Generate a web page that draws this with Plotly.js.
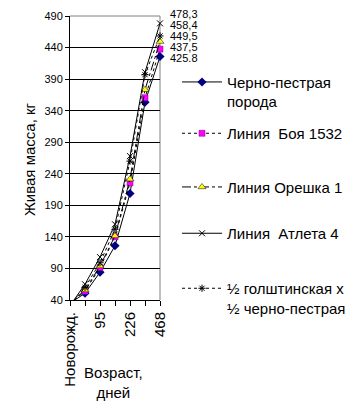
<!DOCTYPE html>
<html>
<head>
<meta charset="utf-8">
<script src="https://cdn.plot.ly/plotly-3.0.1.min.js"></script>
<style>html,body{margin:0;padding:0;background:#fff;}#chart{width:363px;height:411px;}</style>
</head>
<body>
<div id="chart"></div>
<script>
// Age categories (tick labels as shown; unlabeled ticks are blank)
const tickLabels = ['Новорожд.', '', '95', '', '226', '', '468'];

// Live weight, kg
const blackPied = [35, 50.6, 84, 126, 208.8, 353.5, 425.8];
const boya1532 = [34, 54, 91.5, 140, 225.6, 360.5, 437.5];
const oreshka1 = [34, 55.8, 93.8, 141.5, 231.5, 373.2, 449.5];
const atleta4 = [31, 65, 108, 160, 268, 401, 478.3];
const holstein = [31, 60, 99, 152, 260, 397, 458.4];

const seriesNames = ['Черно-пестрая<br>порода', 'Линия\u00a0 Боя 1532', 'Линия Орешка 1', 'Линия\u00a0 Атлета 4', '½ голштинская х<br>½ черно-пестрая'];
const endLabels = ['425.8', '437,5', '449,5', '478,3', '458,4'];

const xIdx = tickLabels.map((_, i) => i);
const FONT = 'Liberation Sans, Arial, sans-serif';

const allSeries = [blackPied, boya1532, oreshka1, atleta4, holstein];
const styles = [
  {line: {color: '#000000', width: 1, dash: 'solid'}, marker: {symbol: 'diamond', size: 7, color: '#000080'}},
  {line: {color: '#000000', width: 1, dash: 'dot'}, marker: {symbol: 'square', size: 6, color: '#FF00FF', line: {color: '#800080', width: 0.5}}},
  {line: {color: '#000000', width: 1, dash: 'dashdot'}, marker: {symbol: 'triangle-up', size: 7, color: '#FFFF00', line: {color: '#000000', width: 0.5}}},
  {line: {color: '#000000', width: 1, dash: 'solid'}, marker: {symbol: 'x-thin', size: 6, color: '#000000', line: {color: '#000000', width: 1}}},
  {line: {color: '#000000', width: 1, dash: 'dot'}, marker: {symbol: 'asterisk-open', size: 6, color: '#000000', line: {color: '#000000', width: 1}}}
];
const legendIds = ['legend', 'legend2', 'legend3', 'legend4', 'legend5'];
const legendSymY = [82.7, 134, 187.7, 234, 289]; // px positions for layout placement

const traces = allSeries.map((vals, i) => ({
  type: 'scatter', mode: 'lines+markers',
  x: xIdx, y: vals, name: seriesNames[i],
  line: styles[i].line, marker: styles[i].marker,
  cliponaxis: false, legend: legendIds[i], showlegend: true, hoverinfo: 'skip'
}));

// plot area: x 70..160, y 16..300
const PT = 16, PB = 300, PH = PB - PT;
const legends = {};
legendIds.forEach((id, i) => {
  legends[id] = {
    x: (177 - 70) / 90, xanchor: 'left',
    y: (PB - (legendSymY[i] - 17)) / PH, yanchor: 'top',
    bgcolor: 'rgba(0,0,0,0)', borderwidth: 0,
    font: {family: FONT, size: 15, color: '#000'},
    itemwidth: 40, valign: 'top', tracegroupgap: 0
  };
});

const yShifts = [-1.5, 2, 5.5, 9.5, 11];
const annotations = allSeries.map((vals, i) => ({
  x: xIdx[xIdx.length - 1], y: vals[vals.length - 1], xref: 'x', yref: 'y',
  text: endLabels[i], showarrow: false, xanchor: 'left', yanchor: 'middle',
  xshift: 9, yshift: yShifts[i], borderpad: 0,
  font: {family: 'Liberation Sans Narrow, Arial Narrow, ' + FONT, size: 11, color: '#000'}
}));
annotations.push({
  text: 'Возраст,<br>дней', xref: 'paper', yref: 'paper',
  x: (113 - 70) / 90, y: (PB - 382) / PH, xanchor: 'center', yanchor: 'middle',
  showarrow: false, font: {family: FONT, size: 15, color: '#000'}
});
annotations.push({
  text: 'Живая масса, кг', xref: 'paper', yref: 'paper', textangle: -90,
  x: (29 - 70) / 90, y: (PB - 159) / PH, xanchor: 'center', yanchor: 'middle',
  showarrow: false, font: {family: FONT, size: 15, color: '#000'}
});

const layout = Object.assign({
  width: 363, height: 411, autosize: false,
  margin: {l: 70, r: 203, t: PT, b: 411 - PB, pad: 0},
  paper_bgcolor: '#fff', plot_bgcolor: '#fff',
  font: {family: FONT, color: '#000'},
  xaxis: {
    range: [0, xIdx.length - 1], tickmode: 'array', tickvals: xIdx, ticktext: tickLabels,
    tickangle: -90, ticks: 'outside', ticklen: 5, tickcolor: '#000', tickwidth: 1,
    showline: true, linecolor: '#000', linewidth: 1, showgrid: false, zeroline: false,
    tickfont: {family: FONT, size: 15, color: '#000'}, fixedrange: true
  },
  yaxis: {
    range: [40, 490], dtick: 50, tick0: 40, ticks: 'outside', ticklen: 4, tickcolor: '#000',
    showline: true, linecolor: '#000', linewidth: 1, showgrid: true, gridcolor: '#000', gridwidth: 1,
    zeroline: false, tickfont: {family: FONT, size: 11, color: '#000'}, fixedrange: true
  },
  shapes: [
    {type: 'line', xref: 'paper', yref: 'paper', x0: 0, x1: 1, y0: 1, y1: 1, line: {color: '#808080', width: 1}, layer: 'between'},
    {type: 'line', xref: 'paper', yref: 'paper', x0: 1, x1: 1, y0: 0, y1: 1, line: {color: '#808080', width: 1}, layer: 'between'}
  ],
  annotations: annotations
}, legends);

Plotly.newPlot('chart', traces, layout, {displayModeBar: false, staticPlot: true});
</script>
</body>
</html>
